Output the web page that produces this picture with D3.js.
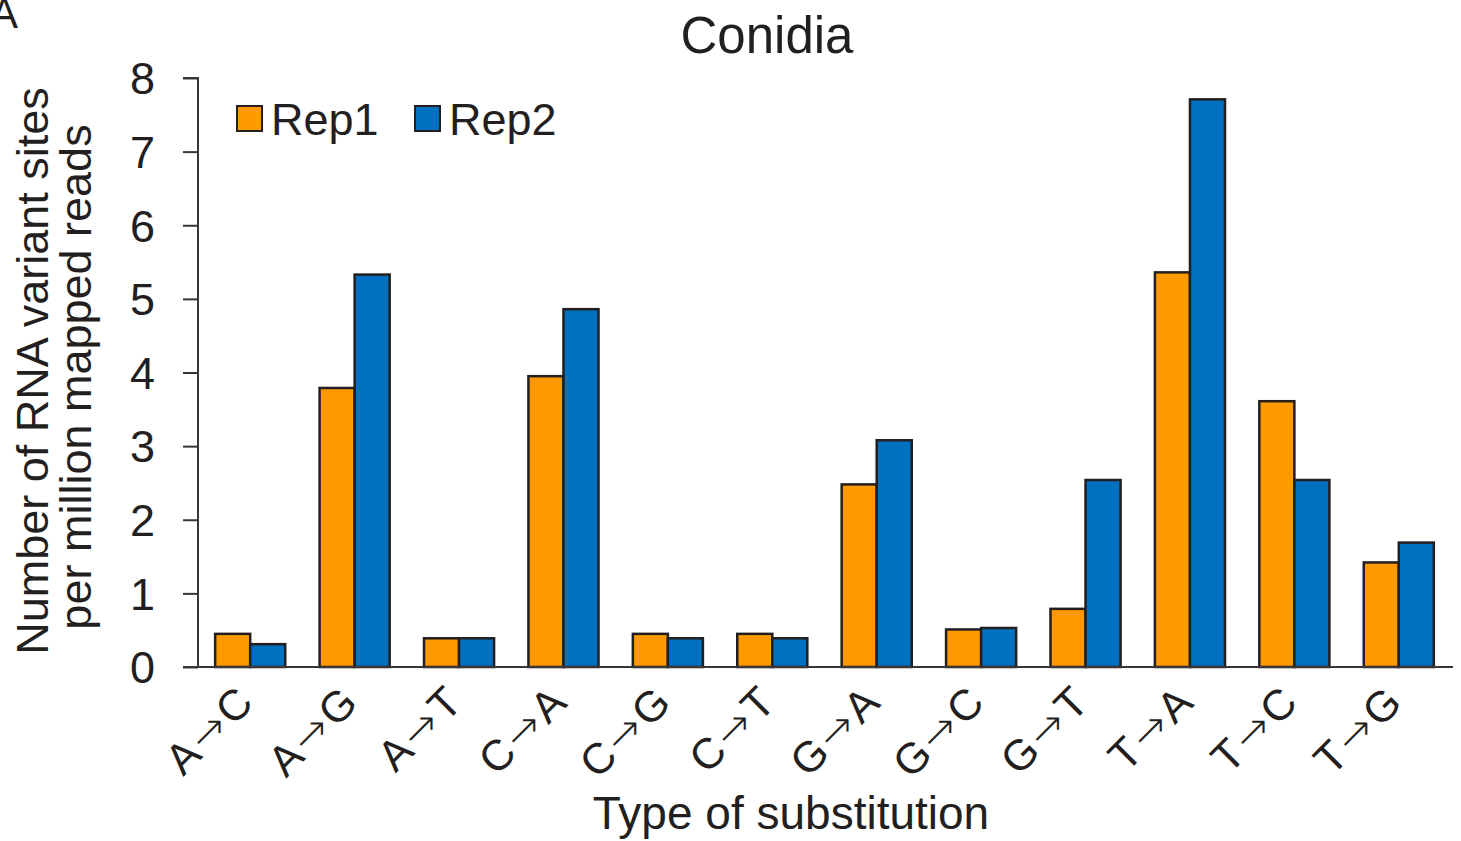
<!DOCTYPE html>
<html>
<head>
<meta charset="utf-8">
<script src="https://cdn.jsdelivr.net/npm/d3@7"></script>
<style>
  body { margin: 0; background: #fff; }
  svg text { font-family: "Liberation Sans", Arial, sans-serif; fill: #231f20; }
</style>
</head>
<body>
<svg id="chart" width="1461" height="841"></svg>
<script>
// substitution types and the two replicate series
const categories = ["A→C", "A→G", "A→T", "C→A", "C→G", "C→T", "G→A", "G→C", "G→T", "T→A", "T→C", "T→G"];
const seriesNames = ["Rep1", "Rep2"];
const rep1 = [0.45, 3.79, 0.39, 3.95, 0.45, 0.45, 2.48, 0.51, 0.79, 5.36, 3.61, 1.42];
const rep2 = [0.31, 5.33, 0.39, 4.86, 0.39, 0.39, 3.08, 0.53, 2.54, 7.71, 2.54, 1.69];
const yTicks = [0, 1, 2, 3, 4, 5, 6, 7, 8];
const colors = ["#ff9900", "#0070c0"];

const data = categories.map((c, i) => ({ cat: c, values: [rep1[i], rep2[i]] }));

let svg = d3.select("#chart"),
  marginLeft = 198,
  marginTop = 78,
  width = 1253,
  height = 589;

let x0 = d3.scaleBand().domain(categories).range([0, width]).padding(0),
  x1 = d3.scaleBand().domain(seriesNames).range([0, x0.bandwidth()]).paddingInner(0).paddingOuter(0.49),
  y = d3.scaleLinear().domain([0, 8]).range([height, 0]);

let g = svg.append("g").attr("transform", "translate(" + marginLeft + "," + marginTop + ")");

// bars
g.selectAll(".grp")
  .data(data)
  .enter()
  .append("g")
  .attr("class", "grp")
  .attr("transform", (d) => "translate(" + x0(d.cat) + ",0)")
  .selectAll("rect")
  .data((d) => d.values.map((v, i) => ({ key: seriesNames[i], v: v, i: i })))
  .enter()
  .append("rect")
  .attr("x", (d) => x1(d.key))
  .attr("y", (d) => y(d.v))
  .attr("width", x1.bandwidth())
  .attr("height", (d) => height - y(d.v))
  .attr("fill", (d) => colors[d.i])
  .attr("stroke", "#231f20")
  .attr("stroke-width", 2.5);

// y axis
let yAxis = g.append("g")
  .call(d3.axisLeft(y).tickValues(yTicks).tickSize(15).tickPadding(28).tickFormat(d3.format("d")));
yAxis.select(".domain").attr("stroke", "#3b3536").attr("stroke-width", 2).attr("d", "M0," + height + "V0H-15");
yAxis.selectAll(".tick line").attr("stroke", "#3b3536").attr("stroke-width", 2);
yAxis.selectAll(".tick text").attr("font-size", "45px").attr("dy", "0.35em").style("font-family", "Liberation Sans, Arial, sans-serif").attr("fill", "#231f20");

// x axis baseline
let xAxis = g.append("g")
  .attr("transform", "translate(0," + height + ")")
  .call(d3.axisBottom(x0).tickSize(0).tickPadding(0));
xAxis.select(".domain").attr("stroke", "#3b3536").attr("stroke-width", 2).attr("d", "M-15,0H" + (width + 2));

// rotated category labels, arrow in DejaVu Sans with small gaps around it
xAxis.selectAll(".tick text").each(function (d) {
  let t = d3.select(this).text(null)
    .attr("font-size", "43px")
    .style("font-family", "Liberation Sans, Arial, sans-serif")
    .attr("fill", "#231f20")
    .attr("text-anchor", "end")
    .attr("y", 0)
    .attr("dy", 0)
    .attr("transform", "translate(5,38) rotate(-45)");
  let parts = d.split("→");
  t.append("tspan").text(parts[0]);
  t.append("tspan").attr("dx", 3).style("font-family", "DejaVu Sans, sans-serif").style("font-weight", 200).text("→");
  t.append("tspan").attr("dx", 3).text(parts[1]);
});

// legend
let legend = svg.append("g");
seriesNames.forEach((s, i) => {
  let lx = 237 + i * 178;
  legend.append("rect")
    .attr("x", lx).attr("y", 106).attr("width", 25).attr("height", 25)
    .attr("fill", colors[i]).attr("stroke", "#231f20").attr("stroke-width", 2);
  legend.append("text")
    .attr("x", lx + 34).attr("y", 135)
    .attr("font-size", "45px")
    .text(s);
});

// titles
svg.append("text")
  .attr("x", 767).attr("y", 53)
  .attr("text-anchor", "middle")
  .attr("font-size", "51px")
  .text("Conidia");

svg.append("text")
  .attr("x", 791).attr("y", 829)
  .attr("text-anchor", "middle")
  .attr("font-size", "46px")
  .text("Type of substitution");

svg.append("text")
  .attr("transform", "translate(48,371) rotate(-90)")
  .attr("text-anchor", "middle")
  .attr("font-size", "45px")
  .text("Number of RNA variant sites");

svg.append("text")
  .attr("transform", "translate(91,377) rotate(-90)")
  .attr("text-anchor", "middle")
  .attr("font-size", "45px")
  .text("per million mapped reads");

// panel letter, cut at the edge as in the figure
svg.append("text")
  .attr("x", -10).attr("y", 28)
  .attr("font-size", "42px")
  .text("A");
</script>
</body>
</html>
